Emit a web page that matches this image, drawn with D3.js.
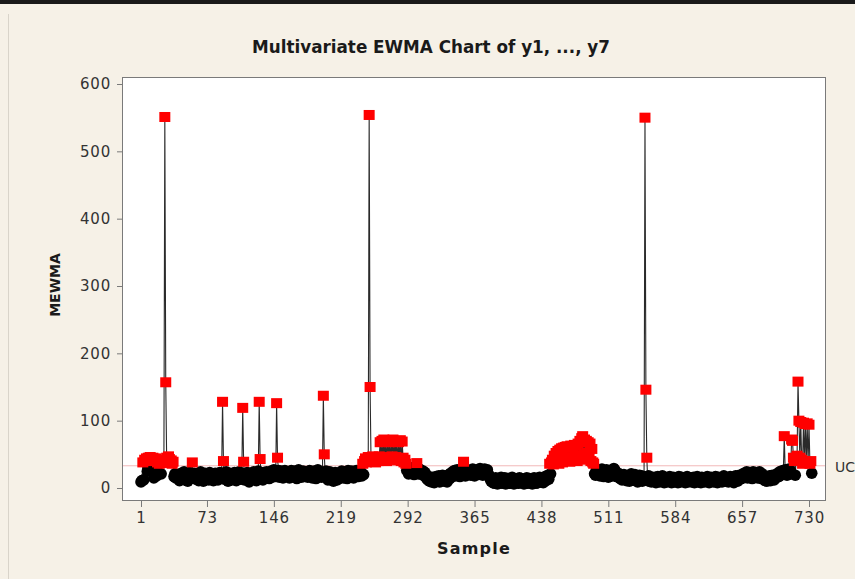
<!DOCTYPE html>
<html><head><meta charset="utf-8">
<script src="https://cdn.jsdelivr.net/npm/d3@7/dist/d3.min.js"></script>
<style>
html,body{margin:0;padding:0;background:#f6f1e7;}
svg{display:block;}
</style></head>
<body>
<svg id="chart" width="855" height="579"></svg>
<script>
// ---------- DATA ----------
const title = "Multivariate EWMA Chart of y1, ..., y7";
const xLabel = "Sample";
const yLabel = "MEWMA";
const xTicks = [1, 73, 146, 219, 292, 365, 438, 511, 584, 657, 730];
const yTicks = [0, 100, 200, 300, 400, 500, 600];
const ucl = 33;
const uclLabel = "UC";   // the limit label is truncated at the image edge in the original

// in-control MEWMA statistic per sample (1..733)
const baseline = [
 9,11,14,12,18,22,16,25,19,14,21,27,17,23,15,20,26,18,13,22,
 24,17,21,26,19,23,18,28,16,22,25,20,14,27,19,23,17,21,15,18,
 16,20,11,18,22,13,19,24,12,17,21,10,19,23,14,20,12,18,22,15,
 13,21,18,11,20,24,14,19,10,17,22,13,20,18,12,23,19,14,21,11,
 18,22,14,20,12,19,23,15,21,25,18,13,20,24,14,10,19,22,15,12,
 20,14,23,18,11,21,15,24,19,13,22,26,16,12,20,15,23,14,9,19,
 22,13,18,24,15,20,11,21,25,19,14,22,16,12,23,20,15,24,19,21,
 14,22,25,16,20,27,21,17,24,19,26,16,22,25,18,15,23,26,19,17,
 24,18,15,22,26,17,23,16,25,19,14,22,27,18,24,16,21,25,17,23,
 18,24,16,22,26,17,23,15,21,25,18,14,22,27,17,24,19,16,23,18,
 15,22,25,17,12,20,24,16,13,21,10,15,23,17,12,20,14,22,16,25,
 19,15,24,17,22,14,26,18,23,16,25,19,15,24,18,26,20,17,25,19,
 24,18,27,20,16,25,19,24,17,22,23,18,26,20,16,24,27,19,25,18,
 23,17,26,20,25,18,24,28,19,25,20,27,17,24,26,19,28,21,25,18,
 27,22,20,29,23,19,27,22,28,20,26,29,21,27,23,30,22,28,20,26,
 29,23,27,21,28,22,26,20,25,18,23,17,14,12,17,10,15,9,16,11,
 8,14,17,10,15,18,9,16,11,19,12,10,17,13,9,18,20,14,22,17,
 24,19,26,18,23,27,20,25,17,24,28,19,26,21,18,25,27,20,24,26,
 19,25,28,21,18,26,22,27,20,25,29,21,26,19,24,28,23,20,27,21,
 18,14,10,12,8,13,7,15,9,6,14,10,8,16,7,13,9,15,6,12,
 14,8,13,7,12,16,9,6,14,8,13,10,7,15,9,14,8,12,6,13,
 9,15,7,12,14,8,13,6,11,15,10,7,14,8,13,16,9,12,15,8,
 14,17,11,16,19,13,18,21,15,20,14,22,17,23,16,25,19,15,24,18,
 26,20,17,25,19,27,21,18,28,22,16,20,26,19,29,22,18,27,21,25,
 20,28,22,17,26,21,27,19,25,29,20,26,18,24,28,21,19,27,23,20,
 26,18,24,28,20,17,25,21,27,19,16,24,26,20,18,25,29,27,21,17,
 22,16,21,14,19,12,17,20,13,18,11,16,19,10,17,21,12,18,13,20,
 11,17,9,16,19,12,18,10,15,17,20,12,16,11,18,10,15,9,16,12,
 10,16,8,14,17,11,9,15,10,18,12,8,16,11,9,15,10,17,12,8,
 11,16,9,15,10,14,8,17,11,9,16,10,15,12,8,13,17,9,14,10,
 15,9,13,16,8,14,10,17,9,15,11,8,16,10,14,9,15,11,17,10,
 8,14,16,10,15,9,13,17,12,8,16,10,15,11,9,14,18,10,16,11,
 15,9,14,17,10,16,11,8,15,18,12,10,16,19,13,17,20,15,22,18,
 21,24,15,20,23,17,22,14,24,21,16,23,20,15,22,24,17,14,21,16,
 13,11,17,10,16,12,18,11,15,19,14,12,17,20,16,22,17,24,19,25,
 20,26,21,27,22,19,26,28,21,25,27,20,24,26,19,25,21,27,20,24,
 26,19,25,21,27,20,24,18,25,21,19,24,22
];

// out-of-control samples: [sample, MEWMA]
const outOfControl = [
 [3,38],[5,42],[6,40],[7,44],[9,45],[10,41],[11,46],[13,43],[14,45],[16,40],[17,44],
 [19,38],[21,36],[22,40],[24,37],[25,42],[26,40],[27,551],[28,157],[29,45],[30,40],
 [31,47],[32,43],[33,38],[34,41],[35,36],[36,39],
 [57,38],[90,128],[91,40],[112,119],[113,39],[130,128],[131,43],[149,126],[150,45],
 [200,137],[201,50],
 [243,36],[245,40],[246,44],[247,38],[248,42],[249,46],[250,554],[251,150],[252,45],
 [253,42],[254,47],[255,40],[256,44],[257,38],[258,46],[259,42],[260,40],[261,47],
 [262,68],[263,44],[264,70],[265,41],[266,72],[267,46],[268,69],[269,40],[270,71],
 [271,45],[272,68],[273,42],[274,70],[275,47],[276,72],[277,43],[278,69],[279,46],
 [280,70],[281,41],[282,68],[283,44],[284,71],[285,40],[286,69],[287,45],[288,38],
 [289,42],[290,36],
 [302,37],[353,39],
 [447,36],[449,38],[450,42],[451,35],[452,48],[453,38],[454,52],[455,40],[456,55],
 [457,36],[458,57],[459,42],[460,59],[461,38],[462,60],[463,44],[464,61],[465,40],
 [466,62],[467,46],[468,60],[469,39],[470,63],[471,45],[472,62],[473,41],[474,64],
 [475,47],[476,63],[477,40],[478,66],[479,48],[480,70],[481,42],[482,74],[483,77],
 [484,50],[485,72],[486,44],[487,70],[488,52],[489,68],[490,45],[491,66],[492,40],
 [493,58],[494,38],[495,36],
 [551,550],[552,146],[553,45],
 [703,77],[711,72],[712,70],[713,45],[714,40],[716,42],[717,48],[718,158],[719,100],
 [720,45],[721,98],[722,42],[723,36],[724,97],[725,40],[726,95],[727,38],[728,96],
 [729,37],[730,94],[731,36],[732,40]
];

// ---------- BUILD ----------
const ooc = new Map(outOfControl.map(d => [d[0], d[1]]));
const data = baseline.map((v, i) => {
  const s = i + 1;
  return {s, v: ooc.has(s) ? ooc.get(s) : v};
});

const svg = d3.select("#chart");
const W = 855, H = 579;
const plot = {left: 122, right: 826, top: 77, bottom: 501};

// background & outer frame
svg.append("rect").attr("x",0).attr("y",0).attr("width",W).attr("height",H).attr("fill","#f6f1e7");
svg.append("rect").attr("x",0).attr("y",0).attr("width",W).attr("height",4).attr("fill","#1a1a1a");
svg.append("line").attr("x1",8.5).attr("x2",8.5).attr("y1",14).attr("y2",H).attr("stroke","#d9d4ca");

const x = d3.scaleLinear().domain([1, 730]).range([141, 809]);
const y = d3.scaleLinear().domain([0, 600]).range([488, 84]);

// plot area
svg.append("rect").attr("x", plot.left).attr("y", plot.top)
  .attr("width", plot.right - plot.left).attr("height", plot.bottom - plot.top)
  .attr("fill", "#ffffff");

svg.append("clipPath").attr("id","pclip").append("rect")
  .attr("x", plot.left).attr("y", plot.top)
  .attr("width", plot.right - plot.left).attr("height", plot.bottom - plot.top);

const g = svg.append("g").attr("clip-path","url(#pclip)");

// UCL line
g.append("line").attr("x1", plot.left).attr("x2", plot.right)
  .attr("y1", y(ucl)).attr("y2", y(ucl))
  .attr("stroke", "#f2b8b8").attr("stroke-width", 1);

// connecting line
g.append("path").datum(data)
  .attr("d", d3.line().x(d => x(d.s)).y(d => y(d.v)))
  .attr("fill","none").attr("stroke","#2a2a2a").attr("stroke-width",1.1);

// in-control points
g.selectAll("circle.ic").data(data.filter(d => d.v <= ucl)).join("circle")
  .attr("class","ic").attr("cx", d => x(d.s)).attr("cy", d => y(d.v))
  .attr("r", 5.8).attr("fill","#000");

// out-of-control points
g.selectAll("rect.oc").data(data.filter(d => d.v > ucl)).join("rect")
  .attr("class","oc").attr("x", d => x(d.s) - 5.5).attr("y", d => y(d.v) - 5)
  .attr("width", 11).attr("height", 10).attr("fill","#ff0000");

// frame
svg.append("rect").attr("x", plot.left + 0.5).attr("y", plot.top + 0.5)
  .attr("width", plot.right - plot.left - 1).attr("height", plot.bottom - plot.top - 1)
  .attr("fill","none").attr("stroke","#7a7a7a").attr("stroke-width",1);

// axes
const tickFont = "'DejaVu Sans', Verdana, sans-serif";
const xAxis = svg.append("g").attr("transform", `translate(0,${plot.bottom})`)
  .call(d3.axisBottom(x).tickValues(xTicks).tickSize(6).tickPadding(5).tickFormat(d3.format("d")));
const yAxis = svg.append("g").attr("transform", `translate(${plot.left},0)`)
  .call(d3.axisLeft(y).tickValues(yTicks).tickSize(5).tickPadding(6).tickFormat(d3.format("d")));
[xAxis, yAxis].forEach(a => {
  a.select(".domain").remove();
  a.selectAll(".tick line").attr("stroke","#7a7a7a");
  a.selectAll(".tick text").attr("fill","#333").style("font-family", tickFont)
    .style("font-size","15px").style("letter-spacing","0.8px");
});

// UCL label (only "UC" is visible at the image edge in the original)
svg.append("text").attr("x", 835).attr("y", y(ucl) + 6)
  .style("font-family", tickFont).style("font-size","14px").attr("fill","#333")
  .text(uclLabel);

// titles
svg.append("text").attr("x", 431).attr("y", 53).attr("text-anchor","middle")
  .style("font-family","'DejaVu Sans', sans-serif").style("font-weight","bold")
  .style("font-size","18px").attr("fill","#1a1a1a")
  .attr("textLength", 358).attr("lengthAdjust","spacingAndGlyphs")
  .text(title);

svg.append("text").attr("x", 474).attr("y", 554).attr("text-anchor","middle")
  .style("font-family","'DejaVu Sans', sans-serif").style("font-weight","bold")
  .style("font-size","16px").style("letter-spacing","1.2px").attr("fill","#1a1a1a")
  .text(xLabel);

svg.append("text").attr("transform","translate(60,285) rotate(-90)").attr("text-anchor","middle")
  .style("font-family","'DejaVu Sans', sans-serif").style("font-weight","bold")
  .style("font-size","14px").attr("fill","#1a1a1a")
  .text(yLabel);
</script>
</body></html>
